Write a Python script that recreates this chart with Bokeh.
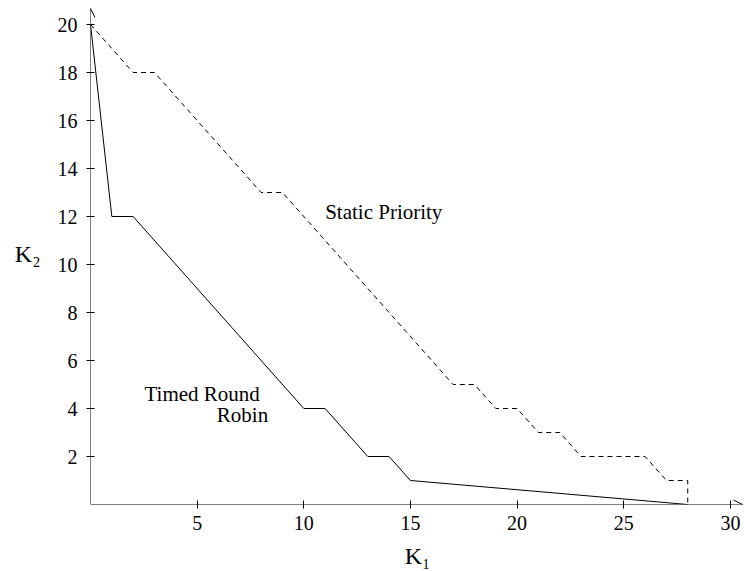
from bokeh.plotting import figure
from bokeh.models import Range1d, FixedTicker, Arrow, OpenHead, Label
from bokeh.embed import file_html
from bokeh.resources import INLINE

# Data
static_k1 = [0, 2, 3, 8, 9, 17, 18, 19, 20, 21, 22, 23, 26, 27, 28, 28]
static_k2 = [20, 18, 18, 13, 13, 5, 5, 4, 4, 3, 3, 2, 2, 1, 1, 0]
trr_k1 = [0, 1, 2, 10, 11, 13, 14, 15, 28]
trr_k2 = [20, 12, 12, 4, 4, 2, 2, 1, 0]
x_ticks = [5, 10, 15, 20, 25, 30]
y_ticks = [2, 4, 6, 8, 10, 12, 14, 16, 18, 20]

FONT = "Liberation Serif"
xs = 21.33
ys = 24.0

p = figure(width=744, height=571, output_backend="svg", toolbar_location=None,
           x_range=Range1d(0, 654 / xs), y_range=Range1d(0, 502 / ys),
           min_border_left=90, min_border_right=0, min_border_top=2, min_border_bottom=67)
p.outline_line_color = None
p.grid.visible = False
p.background_fill_color = "white"
p.border_fill_color = "white"

for ax in (p.xaxis[0], p.yaxis[0]):
    ax.axis_line_color = None
    ax.major_tick_in = 4
    ax.major_tick_out = 4
    ax.minor_tick_line_color = None
    ax.major_tick_line_color = "black"
    ax.major_label_text_font = FONT
    ax.major_label_text_font_size = "20px"
    ax.major_label_text_color = "black"
    ax.axis_label_text_font = FONT
    ax.axis_label_text_font_size = "24px"
    ax.axis_label_text_font_style = "normal"
    ax.axis_label_text_color = "black"
p.xaxis[0].ticker = FixedTicker(ticks=x_ticks)
p.yaxis[0].ticker = FixedTicker(ticks=y_ticks)
p.xaxis[0].major_label_standoff = 7
p.yaxis[0].major_label_standoff = 9
p.xaxis[0].axis_label = "K\u2081"
p.yaxis[0].axis_label = "K\u2082"
p.yaxis[0].axis_label_orientation = "horizontal"
p.xaxis[0].axis_label_standoff = 10
p.yaxis[0].axis_label_standoff = 14

# axis lines with arrow heads
p.add_layout(Arrow(x_start=0, y_start=0, x_end=652 / xs, y_end=0,
                   line_color="black", line_width=1,
                   end=OpenHead(size=9, line_color="black", line_width=1)))
p.add_layout(Arrow(x_start=0, y_start=0, x_end=0, y_end=496 / ys,
                   line_color="black", line_width=1,
                   end=OpenHead(size=9, line_color="black", line_width=1)))

p.line(static_k1, static_k2, line_color="black", line_width=1, line_dash="5 4")
p.line(trr_k1, trr_k2, line_color="black", line_width=1)

def lab(x, y, t, size, align="left"):
    p.add_layout(Label(x=x, y=y, text=t, text_font=FONT, text_font_size=size,
                       text_color="black", text_align=align, text_baseline="alphabetic"))

lab(11.0, 12.17, "Static Priority", "21px")
lab(2.53, 4.62, "Timed Round", "21px")
lab(8.33, 3.75, "Robin", "21px", align="right")

open("out.html", "w").write(file_html(p, INLINE))
